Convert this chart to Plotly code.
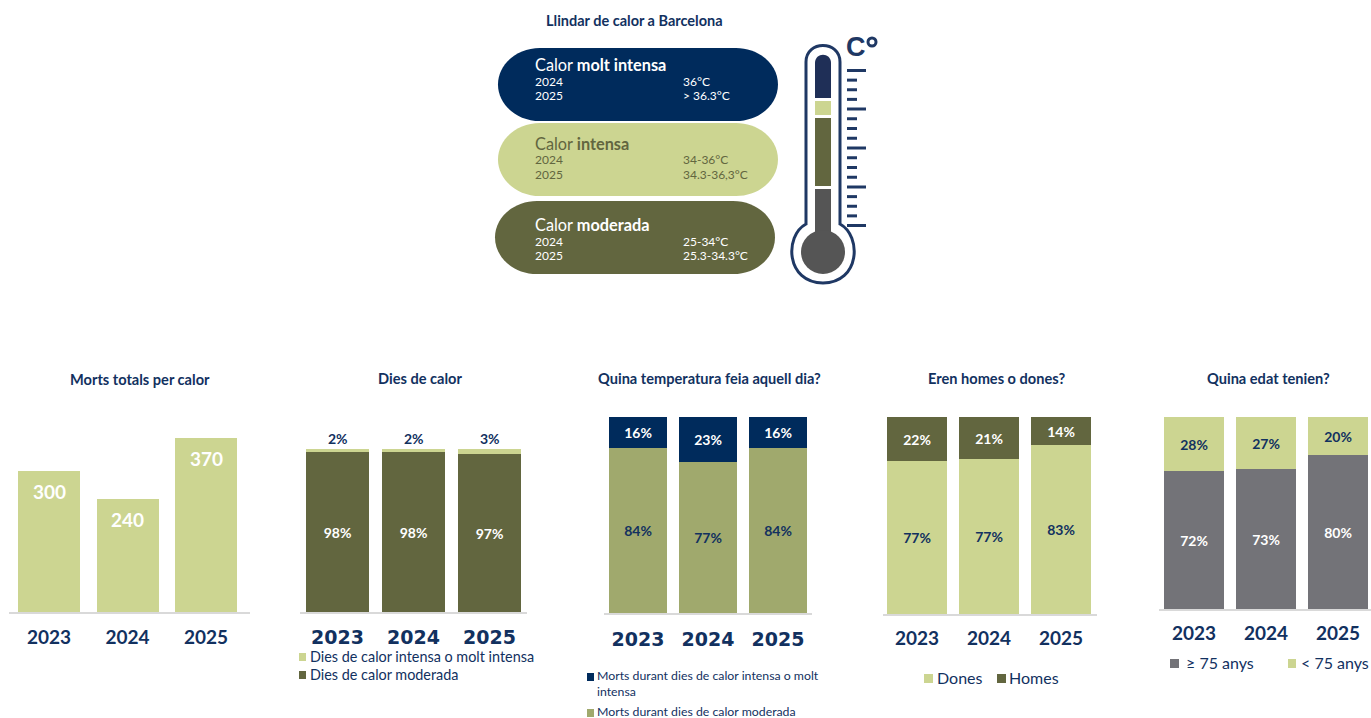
import plotly.graph_objects as go

W, H = 1371, 718
NAVY = "#002B5C"
TXT = "#12315F"
LIGHT = "#CCD591"
OLIVE = "#62663F"
MID = "#A0A96D"
GRAY = "#737378"
AXIS = "#D9D9D9"

years = ["2023", "2024", "2025"]
deaths = [300, 240, 370]
days_moderate = [98, 98, 97]
days_intense = [2, 2, 3]
temp_moderate = [84, 77, 84]
temp_intense = [16, 23, 16]
women = [77, 77, 83]
men = [22, 21, 14]
age_over = [72, 73, 80]
age_under = [28, 27, 20]

titles = ["Morts totals per calor", "Dies de calor", "Quina temperatura feia aquell dia?",
          "Eren homes o dones?", "Quina edat tenien?"]
main_title = "Llindar de calor a Barcelona"

pill_rows = [
    ("Calor ", "molt intensa", "36°C", "> 36.3°C"),
    ("Calor ", "intensa", "34-36°C", "34.3-36,3°C"),
    ("Calor ", "moderada", "25-34°C", "25.3-34.3°C"),
]

FONT = "Lato"
fig = go.Figure()
shapes, notes = [], []


def X(p):
    return p / W


def Y(p):
    return 1 - p / H


def text(x, y, s, size, color=TXT, anchor="center", family=FONT, yanchor="middle", align=None):
    notes.append(dict(xref="paper", yref="paper", x=X(x), y=Y(y), text=s, showarrow=False,
                      xanchor=anchor, yanchor=yanchor, align=align or anchor,
                      font=dict(family=family, size=size, color=color),
                      borderpad=0, borderwidth=0))


def box(x0, y0, x1, y1, color):
    shapes.append(dict(type="rect", xref="paper", yref="paper", x0=X(x0), x1=X(x1), y0=Y(y0), y1=Y(y1),
                       fillcolor=color, line=dict(width=0)))


def path(d, fill=None, line=None, lw=0):
    out = []
    for tok in d:
        if isinstance(tok, str):
            out.append(tok)
        else:
            out.append(f"{X(tok[0]):.5f},{Y(tok[1]):.5f}")
    s = dict(type="path", xref="paper", yref="paper", path=" ".join(out), line=dict(width=lw, color=line or "rgba(0,0,0,0)"))
    if fill:
        s["fillcolor"] = fill
    shapes.append(s)


K = 0.5523


def stadium(x0, y0, x1, y1, fill):
    r = (y1 - y0) / 2
    rx = r * 1.15
    ym = (y0 + y1) / 2
    path(["M", (x0 + rx, y0), "L", (x1 - rx, y0),
          "C", (x1 - rx + K * rx, y0), (x1, ym - K * r), (x1, ym),
          "C", (x1, ym + K * r), (x1 - rx + K * rx, y1), (x1 - rx, y1),
          "L", (x0 + rx, y1),
          "C", (x0 + rx - K * rx, y1), (x0, ym + K * r), (x0, ym),
          "C", (x0, ym - K * r), (x0 + rx - K * rx, y0), (x0 + rx, y0), "Z"], fill=fill)


def circle(cx, cy, r, fill, line=None, lw=0):
    shapes.append(dict(type="circle", xref="paper", yref="paper", x0=X(cx - r), x1=X(cx + r),
                       y0=Y(cy + r), y1=Y(cy - r), fillcolor=fill,
                       line=dict(width=lw, color=line or "rgba(0,0,0,0)")))


# ---------- bar panels ----------
def panel(i, c0, step, barw, left, right, top, base, ymax, series, tickfont, standoff):
    ax = "" if i == 1 else str(i)
    xname, yname = f"xaxis{ax}", f"yaxis{ax}"
    fig.update_layout(**{
        xname: dict(domain=[X(left), X(right)], anchor=f"y{ax}", type="category",
                    range=[(left - c0) / step, (right - c0) / step], showgrid=False, zeroline=False,
                    showline=True, linecolor=AXIS, linewidth=2, ticks="", ticklabelstandoff=standoff,
                    tickfont=tickfont, fixedrange=True),
        yname: dict(domain=[Y(base), Y(top)], anchor=f"x{ax}", range=[0, ymax], visible=False, fixedrange=True),
    })
    totals = [sum(v) for v in zip(*[s["values"] for s in series])]
    norm = len(series) > 1
    for s in series:
        y = [v / t * 100 for v, t in zip(s["values"], totals)] if norm else s["values"]
        fig.add_trace(go.Bar(x=years, y=y, name=s["name"], xaxis=f"x{ax}", yaxis=f"y{ax}", width=barw / step,
                             marker=dict(color=s["color"], line=dict(width=0)),
                             text=s.get("text"), textposition="inside" if s.get("text") else "none",
                             insidetextanchor="middle", textangle=0, constraintext="none",
                             insidetextfont=dict(family=FONT, size=14, color=s.get("tcolor", "#FFFFFF"), weight="bold"),
                             hoverinfo="skip", showlegend=False))
    return f"x{ax}", f"y{ax}"


def pct(vals):
    return [f"{v}%" for v in vals]


LAT = dict(family="Lato", size=19, color=TXT, weight="bold")
DJV = dict(family="DejaVu Sans", size=19, color=TXT, weight="bold")

xa, ya = panel(1, 49, 78.5, 62, 9, 250, 400, 612, 212 / 0.47,
               [dict(name="Morts", values=deaths, color=LIGHT)], LAT, 7)
for i, v in enumerate(deaths):
    notes.append(dict(xref=xa, yref=ya, x=i, y=v, yshift=-20, text=str(v), showarrow=False,
                      font=dict(family="Lato", size=19, color="#FFFFFF", weight="bold")))

xa, ya = panel(2, 337.5, 76, 63, 300, 527, 449, 612, 100,
               [dict(name="Dies de calor moderada", values=days_moderate, color=OLIVE, text=pct(days_moderate)),
                dict(name="Dies de calor intensa o molt intensa", values=days_intense, color=LIGHT)], DJV, 7)
for i, v in enumerate(days_intense):
    notes.append(dict(xref=xa, yref=ya, x=i, y=100, yshift=11, text=f"{v}%", showarrow=False,
                      font=dict(family=FONT, size=14, color=TXT, weight="bold")))

panel(3, 638, 70, 58, 604, 812, 417, 613, 100,
      [dict(name="Morts durant dies de calor moderada", values=temp_moderate, color=MID, text=pct(temp_moderate), tcolor=TXT),
       dict(name="Morts durant dies de calor intensa o molt intensa", values=temp_intense, color=NAVY, text=pct(temp_intense))],
      DJV, 8)

panel(4, 917, 72, 60, 883, 1097, 417, 614, 100,
      [dict(name="Dones", values=women, color=LIGHT, text=pct(women), tcolor=TXT),
       dict(name="Homes", values=men, color=OLIVE, text=pct(men))], LAT, 6)

panel(5, 1194, 72, 60, 1159, 1371, 417, 609, 100,
      [dict(name="≥ 75 anys", values=age_over, color=GRAY, text=pct(age_over)),
       dict(name="< 75 anys", values=age_under, color=LIGHT, text=pct(age_under), tcolor=TXT)], LAT, 6)

# ---------- titles ----------
for (cx, cy), t in zip([(140, 379), (420, 378), (709, 378), (996, 378), (1268, 378)], titles):
    text(cx, cy, f"<b>{t}</b>", 14.6)
text(634, 20, f"<b>{main_title}</b>", 14.5)

# ---------- legends ----------
box(299, 653, 306, 661, LIGHT)
text(310, 656, "Dies de calor intensa o molt intensa", 14.4, anchor="left")
box(299, 671, 306, 679, OLIVE)
text(310, 674, "Dies de calor moderada", 14.4, anchor="left")

box(587, 673, 594, 681, NAVY)
text(597, 683, "Morts durant dies de calor intensa o molt<br>intensa", 12.3, anchor="left")
box(587, 709, 594, 717, MID)
text(597, 711.5, "Morts durant dies de calor moderada", 12.3, anchor="left")

box(924, 674, 933, 683, LIGHT)
text(937, 677, "Dones", 16, anchor="left")
box(997, 674, 1006, 683, OLIVE)
text(1009, 677, "Homes", 16, anchor="left")

box(1170, 659, 1179, 668, GRAY)
text(1186, 662, "≥ 75 anys", 16, anchor="left")
box(1288, 659, 1296, 668, LIGHT)
text(1301, 662, "< 75 anys", 16, anchor="left")

# ---------- threshold pills ----------
for (x0, y0, x1, y1, fill, col), (a, b, v24, v25), offs in zip(
        [(498, 48, 778, 121, NAVY, "#FFFFFF"), (498, 123, 778, 196, LIGHT, OLIVE), (495, 201, 775, 274, OLIVE, "#FFFFFF")],
        pill_rows, [(65, 81.5, 96), (144, 160, 174.5), (225, 241.5, 256)]):
    stadium(x0, y0, x1, y1, fill)
    text(535, offs[0], f"{a}<b>{b}</b>", 16.3, color=col, anchor="left")
    text(535, offs[1], years[1], 12, color=col, anchor="left")
    text(535, offs[2], years[2], 12, color=col, anchor="left")
    text(683, offs[1], v24, 12, color=col, anchor="left")
    text(683, offs[2], v25, 12, color=col, anchor="left")

# ---------- thermometer ----------
TH = "#1F3864"
path(["M", (806, 62), "C", (806, 40), (840, 40), (840, 62), "L", (840, 224),
      "C", (862, 236), (860, 283), (823, 283), "C", (786, 283), (784, 236), (806, 224), "Z"],
     fill="#FFFFFF", line=TH, lw=3)
path(["M", (815, 98), "L", (815, 63), "C", (815, 52), (831, 52), (831, 63), "L", (831, 98), "Z"], fill="#1F2F57")
box(815, 101, 831, 115, LIGHT)
box(815, 118, 831, 186, OLIVE)
box(815, 189, 831, 240, "#555555")
circle(823, 252, 22, "#555555")
ticks_long = [70.5, 109, 148, 187, 225.5]
for j, yl in enumerate(ticks_long):
    shapes.append(dict(type="line", xref="paper", yref="paper", x0=X(847), x1=X(866), y0=Y(yl), y1=Y(yl),
                       line=dict(color=TH, width=3)))
    if j < 4:
        gap = (ticks_long[j + 1] - yl) / 4
        for k in (1, 2, 3):
            ys = yl + gap * k
            shapes.append(dict(type="line", xref="paper", yref="paper", x0=X(847), x1=X(857), y0=Y(ys), y1=Y(ys),
                               line=dict(color=TH, width=3)))
text(846, 47, "<b>C</b>", 27, color=TH, anchor="left", family="Liberation Sans")
circle(872, 42, 4, "rgba(0,0,0,0)", line=TH, lw=3)

fig.update_layout(width=W, height=H, margin=dict(l=0, r=0, t=0, b=0), barmode="stack", bargap=0,
                  paper_bgcolor="#FFFFFF", plot_bgcolor="#FFFFFF", showlegend=False,
                  shapes=shapes, annotations=notes, font=dict(family=FONT, color=TXT),
                  uniformtext=dict(mode=False))

fig.write_html("out.html", config=dict(displayModeBar=False),
               post_script="document.body.style.margin='0';document.body.style.overflow='hidden';")
